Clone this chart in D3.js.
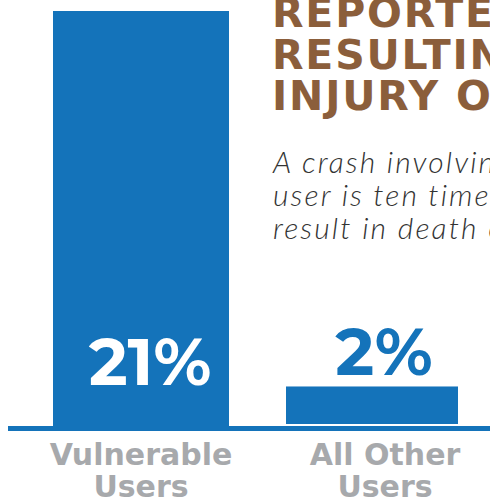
<!DOCTYPE html>
<html>
<head>
<meta charset="utf-8">
<script src="https://cdn.jsdelivr.net/npm/d3@7"></script>
<style>
  html, body { margin: 0; padding: 0; background: #fff; overflow: hidden; }
</style>
</head>
<body>
<div id="chart"></div>
<script>
(() => {
  // chart data
  const categories = ["Vulnerable Users", "All Other Users"];
  const values = [21, 2];
  const valueLabels = ["21%", "2%"];
  const labelLines = [["Vulnerable", "Users"], ["All Other", "Users"]];
  const titleLines = ["REPORTED CRASHES", "RESULTING IN SERIOUS", "INJURY OR DEATH"];
  const noteLines = ["A crash involving a vulnerable", "user is ten times more likely to", "result in death or serious injury."];

  const width = 490, height = 500;
  const blue = "#1473ba", brown = "#8b5e3b", gray = "#a7a9ac";

  const svg = d3.select("#chart").append("svg")
    .attr("width", width)
    .attr("height", height);

  const x = d3.scaleOrdinal()
    .domain(categories)
    .range([53, 286]);
  const barW = [176, 172];

  const y = d3.scaleLinear()
    .domain([0, 21])
    .range([426, 11]);

  // bars
  svg.selectAll("rect.bar")
    .data(values)
    .join("rect")
    .attr("class", "bar")
    .attr("x", (d, i) => x(categories[i]))
    .attr("y", d => y(d))
    .attr("width", (d, i) => barW[i])
    .attr("height", (d, i) => y(0) - y(d) - (i === 1 ? 2 : 0))
    .attr("fill", blue);

  // baseline
  svg.append("rect")
    .attr("x", 8)
    .attr("y", y(0))
    .attr("width", width - 8)
    .attr("height", 5)
    .attr("fill", blue);

  // value labels
  svg.selectAll("text.val")
    .data(valueLabels)
    .join("text")
    .attr("class", "val")
    .attr("x", (d, i) => x(categories[i]) + barW[i] / 2 + (i === 0 ? 9 : 12))
    .attr("y", (d, i) => i === 0 ? 385 : 375)
    .attr("text-anchor", "middle")
    .attr("font-family", "Montserrat, 'DejaVu Sans', sans-serif")
    .attr("font-weight", "bold")
    .attr("font-size", 66)
    .attr("fill", (d, i) => i === 0 ? "#fff" : blue)
    .text(d => d);

  // category labels
  const lab = svg.selectAll("text.cat")
    .data(labelLines)
    .join("text")
    .attr("class", "cat")
    .attr("text-anchor", "middle")
    .attr("font-family", "'DejaVu Sans', sans-serif")
    .attr("font-weight", "bold")
    .attr("font-size", 30)
    .attr("fill", gray);
  lab.selectAll("tspan")
    .data((d, i) => d.map(t => ({ t, i })))
    .join("tspan")
    .attr("x", d => x(categories[d.i]) + barW[d.i] / 2 + (d.i === 0 ? 0 : 13))
    .attr("y", (d, j) => 465 + j * 32)
    .text(d => d.t);

  // title
  svg.append("text")
    .attr("font-family", "'DejaVu Sans', sans-serif")
    .attr("font-weight", "bold")
    .attr("font-size", 41)
    .attr("letter-spacing", 1.8)
    .attr("fill", brown)
    .selectAll("tspan")
    .data(titleLines)
    .join("tspan")
    .attr("x", 272)
    .attr("y", (d, i) => 27 + i * 41.5)
    .text(d => d);

  // note
  svg.append("text")
    .attr("font-family", "Lato, 'Open Sans', sans-serif")
    .attr("font-weight", 300)
    .attr("font-style", "italic")
    .attr("font-size", 30)
    .attr("letter-spacing", 2.1)
    .attr("fill", "#333")
    .selectAll("tspan")
    .data(noteLines)
    .join("tspan")
    .attr("x", 273)
    .attr("y", (d, i) => 173 + i * 33)
    .text(d => d);
})();
</script>
</body>
</html>
